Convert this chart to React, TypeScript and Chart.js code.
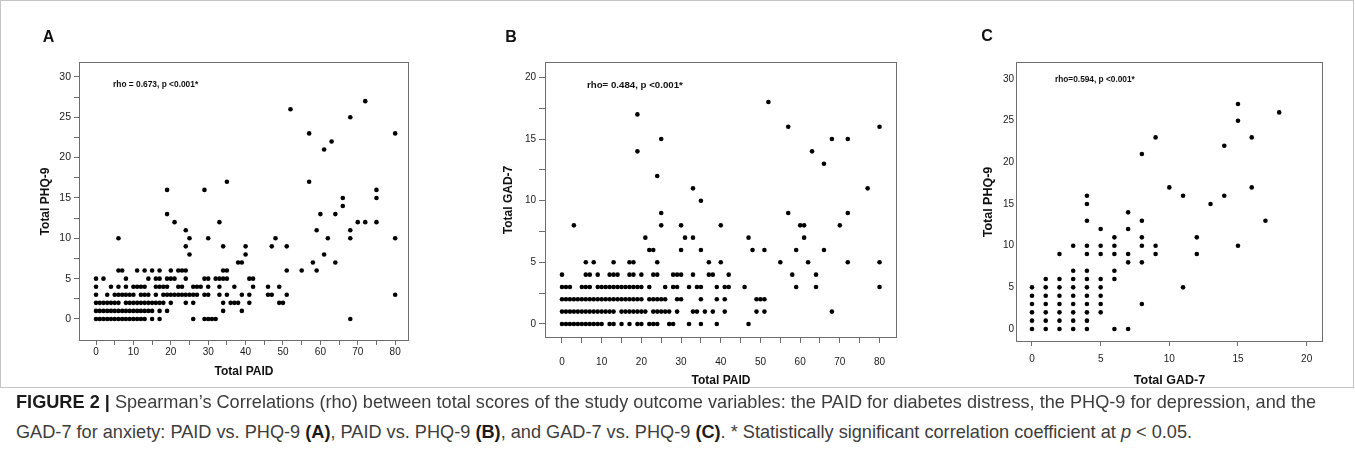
import React, { useEffect, useRef } from 'react';
import { Chart, registerables } from 'chart.js';

Chart.register(...registerables);

const FONT = "'Liberation Sans', Arial, Helvetica, sans-serif";

// ---------- Panel A: Total PAID (x) vs Total PHQ-9 (y) ----------
const A_PHQ_LEVELS = [0, 1, 2, 3, 4, 5, 6, 7, 8, 9, 10, 11, 12, 13, 14, 15, 16, 17, 21, 22, 23, 25, 26, 27];
const A_PAID_BY_LEVEL = [
  [0, 1, 2, 3, 4, 5, 6, 7, 8, 9, 10, 11, 12, 13, 15, 17, 26, 29, 30, 31, 32, 68],
  [0, 1, 2, 3, 4, 5, 6, 7, 8, 9, 10, 11, 12, 13, 14, 15, 17, 19, 34, 39],
  [0, 1, 2, 3, 4, 5, 6, 8, 9, 10, 11, 12, 13, 14, 15, 16, 17, 18, 20, 24, 26, 34, 36, 37, 38, 41, 49, 50],
  [0, 3, 5, 6, 7, 8, 9, 10, 12, 13, 14, 16, 18, 19, 20, 21, 22, 23, 24, 25, 26, 27, 29, 30, 33, 35, 39, 41, 46, 47, 51, 80],
  [0, 4, 6, 8, 10, 11, 12, 13, 16, 17, 18, 19, 22, 23, 26, 27, 28, 30, 33, 37, 42, 46, 49],
  [0, 2, 8, 14, 16, 17, 19, 20, 21, 24, 29, 30, 32, 33, 34, 35, 41, 42],
  [6, 7, 11, 13, 15, 17, 20, 22, 23, 24, 34, 35, 51, 55, 59],
  [38, 39, 58, 64],
  [25, 40, 61],
  [24, 34, 40, 47, 51],
  [6, 25, 30, 48, 62, 68, 80],
  [24, 59, 68],
  [21, 33, 70, 72, 75],
  [19, 60, 64],
  [66],
  [66, 75],
  [19, 29, 75],
  [35, 57],
  [61],
  [63],
  [57, 80],
  [68],
  [52],
  [72],
];

// ---------- Panel B: Total PAID (x) vs Total GAD-7 (y) ----------
const B_GAD_LEVELS = [0, 1, 2, 3, 4, 5, 6, 7, 8, 9, 10, 11, 12, 13, 14, 15, 16, 17, 18];
const B_PAID_BY_LEVEL = [
  [0, 1, 2, 3, 4, 5, 6, 7, 8, 9, 10, 12, 13, 15, 17, 19, 20, 22, 23, 24, 27, 28, 32, 35, 39, 47],
  [0, 1, 2, 3, 4, 5, 6, 7, 8, 9, 10, 11, 12, 13, 15, 16, 17, 18, 19, 20, 21, 23, 24, 25, 26, 27, 29, 33, 34, 36, 38, 41, 49, 51, 68],
  [0, 1, 2, 3, 4, 5, 6, 7, 8, 9, 10, 11, 12, 13, 14, 15, 16, 17, 18, 19, 20, 22, 23, 24, 25, 26, 29, 30, 35, 39, 41, 49, 50, 51],
  [0, 1, 2, 5, 6, 7, 9, 10, 11, 12, 13, 14, 15, 16, 17, 18, 19, 20, 22, 26, 28, 29, 32, 34, 35, 39, 41, 42, 46, 59, 64, 80],
  [0, 6, 7, 9, 12, 13, 14, 17, 18, 20, 23, 24, 28, 29, 30, 33, 37, 38, 42, 58, 64],
  [6, 8, 13, 17, 18, 24, 37, 40, 55, 62, 72, 80],
  [22, 23, 30, 35, 48, 51, 59, 66],
  [21, 31, 33, 47, 61],
  [3, 25, 30, 40, 60, 61, 70],
  [25, 57, 72],
  [35],
  [33, 77],
  [24],
  [66],
  [19, 63],
  [25, 68, 72],
  [57, 80],
  [19],
  [52],
];

// ---------- Panel C: Total GAD-7 (x) vs Total PHQ-9 (y) ----------
const C_PHQ_LEVELS = [0, 1, 2, 3, 4, 5, 6, 7, 8, 9, 10, 11, 12, 13, 14, 15, 16, 17, 21, 22, 23, 25, 26, 27];
const C_GAD_BY_LEVEL = [
  [0, 1, 2, 3, 4, 6, 7],
  [0, 1, 2, 3, 4],
  [0, 1, 2, 3, 4, 5],
  [0, 1, 2, 3, 4, 5, 8],
  [0, 1, 2, 3, 4, 5],
  [0, 1, 2, 3, 4, 5, 11],
  [1, 2, 3, 4, 5, 6],
  [3, 4, 6],
  [7, 8],
  [2, 4, 5, 6, 7, 9, 12],
  [3, 4, 5, 6, 8, 9, 15],
  [6, 8, 12],
  [5, 7],
  [4, 8, 17],
  [7],
  [4, 13],
  [4, 11, 14],
  [10, 16],
  [8],
  [14],
  [9, 16],
  [15],
  [18],
  [15],
];

// ---------- Ticks ----------
const PAID_TICKS = [0, 5, 10, 15, 20, 25, 30, 35, 40, 45, 50, 55, 60, 65, 70, 75, 80];
const PAID_LABELS = ['0', '', '10', '', '20', '', '30', '', '40', '', '50', '', '60', '', '70', '', '80'];
const PHQ_TICKS_A = [0, 2.5, 5, 7.5, 10, 12.5, 15, 17.5, 20, 22.5, 25, 27.5, 30];
const PHQ_LABELS_A = ['0', '', '5', '', '10', '', '15', '', '20', '', '25', '', '30'];
const GAD_TICKS_B = [0, 2.5, 5, 7.5, 10, 12.5, 15, 17.5, 20];
const GAD_LABELS_B = ['0', '', '5', '', '10', '', '15', '', '20'];
const GAD_TICKS_C = [0, 5, 10, 15, 20];
const GAD_LABELS_C = ['0', '5', '10', '15', '20'];
const PHQ_TICKS_C = [0, 5, 10, 15, 20, 25, 30];
const PHQ_LABELS_C = ['0', '5', '10', '15', '20', '25', '30'];

function toPoints(levels: number[], byLevel: number[][]) {
  const pts: { x: number; y: number }[] = [];
  levels.forEach((lv, i) => byLevel[i].forEach((x) => pts.push({ x, y: lv })));
  return pts;
}

interface Spec {
  left: number;
  width: number;
  height: number;
  area: { left: number; top: number; right: number; bottom: number };
  xMin: number; xMax: number; yMin: number; yMax: number;
  xTicks: number[]; xLabels: string[]; yTicks: number[]; yLabels: string[];
  xTitle: string; yTitle: string; titleSize: number;
  points: { x: number; y: number }[];
  letter: string; letterX: number; letterY: number;
  rho: string; rhoX: number; rhoY: number; rhoSize: number;
  yTickLen: number; yTickPad: number; yTickFont: number;
  xTickLen: number; xLabelCenter: number; xTickFont: number;
  yTitleCenterX: number; xTitleCenterY: number;
}

const GRAY = '#6e6e6e';

function Panel({ s }: { s: Spec }) {
  const ref = useRef<HTMLCanvasElement | null>(null);
  useEffect(() => {
    if (!ref.current) return;
    const titleLH = s.titleSize * 1.2;
    const xTickLH = s.xTickFont * 1.2;
    const deco = {
      id: 'deco',
      afterDraw(chart: any) {
        const ctx = chart.ctx;
        const a = chart.chartArea;
        ctx.save();
        ctx.strokeStyle = GRAY;
        ctx.lineWidth = 1;
        ctx.strokeRect(Math.round(a.left) + 0.5, Math.round(a.top) + 0.5, Math.round(a.right - a.left) - 1, Math.round(a.bottom - a.top) - 1);
        ctx.fillStyle = '#111';
        ctx.font = `bold 16px ${FONT}`;
        ctx.textAlign = 'center';
        ctx.textBaseline = 'middle';
        ctx.fillText(s.letter, s.letterX, s.letterY);
        ctx.font = `bold ${s.rhoSize}px ${FONT}`;
        ctx.textAlign = 'left';
        ctx.fillText(s.rho, s.rhoX, s.rhoY);
        ctx.restore();
      },
    };
    const chart = new Chart(ref.current, {
      type: 'scatter',
      data: {
        datasets: [
          {
            data: s.points,
            pointRadius: 2.3,
            pointBackgroundColor: '#000',
            pointBorderWidth: 0,
            pointHoverRadius: 2.3,
            showLine: false,
          },
        ],
      },
      options: {
        animation: false,
        responsive: false,
        maintainAspectRatio: false,
        events: [],
        layout: {
          autoPadding: false,
          padding: { left: 0, top: s.area.top, right: s.width - s.area.right, bottom: 0 },
        },
        plugins: { legend: { display: false }, tooltip: { enabled: false } },
        scales: {
          x: {
            type: 'linear',
            min: s.xMin,
            max: s.xMax,
            afterFit: (sc: any) => { sc.height = s.height - s.area.bottom; },
            afterBuildTicks: (sc: any) => { sc.ticks = s.xTicks.map((v) => ({ value: v })); },
            ticks: {
              autoSkip: false,
              maxRotation: 0,
              padding: s.xLabelCenter - s.area.bottom - s.xTickLen - xTickLH / 2,
              color: '#1a1a1a',
              font: { family: FONT, size: s.xTickFont },
              callback: (_v: any, i: number) => s.xLabels[i],
            },
            grid: {
              display: true,
              drawOnChartArea: false,
              drawTicks: s.xTickLen > 0,
              tickLength: s.xTickLen,
              color: GRAY,
              tickColor: GRAY,
            },
            border: { display: false },
            title: {
              display: true,
              text: s.xTitle,
              color: '#111',
              font: { family: FONT, size: s.titleSize, weight: 'bold' },
              padding: { top: 0, bottom: s.height - s.xTitleCenterY - titleLH / 2 },
            },
          },
          y: {
            type: 'linear',
            min: s.yMin,
            max: s.yMax,
            afterFit: (sc: any) => { sc.width = s.area.left; },
            afterBuildTicks: (sc: any) => { sc.ticks = s.yTicks.map((v) => ({ value: v })); },
            ticks: {
              autoSkip: false,
              padding: s.yTickPad,
              color: '#1a1a1a',
              font: { family: FONT, size: s.yTickFont },
              callback: (_v: any, i: number) => s.yLabels[i],
            },
            grid: {
              display: true,
              drawOnChartArea: false,
              drawTicks: s.yTickLen > 0,
              tickLength: s.yTickLen,
              color: GRAY,
              tickColor: GRAY,
            },
            border: { display: false },
            title: {
              display: true,
              text: s.yTitle,
              color: '#111',
              font: { family: FONT, size: s.titleSize, weight: 'bold' },
              padding: { top: s.yTitleCenterX - titleLH / 2, bottom: 0 },
            },
          },
        },
      } as any,
      plugins: [deco],
    });
    return () => chart.destroy();
  }, [s]);
  return (
    <canvas
      ref={ref}
      width={s.width}
      height={s.height}
      style={{ position: 'absolute', left: s.left, top: 0, width: s.width, height: s.height }}
    />
  );
}

const SPEC_A: Spec = {
  left: 0, width: 470, height: 395,
  area: { left: 79, top: 62, right: 409, bottom: 341 },
  xMin: -4.55, xMax: 83.7, yMin: -2.73, yMax: 31.85,
  xTicks: PAID_TICKS, xLabels: PAID_LABELS, yTicks: PHQ_TICKS_A, yLabels: PHQ_LABELS_A,
  xTitle: 'Total PAID', yTitle: 'Total PHQ-9', titleSize: 12,
  points: toPoints(A_PHQ_LEVELS, A_PAID_BY_LEVEL),
  letter: 'A', letterX: 48.5, letterY: 38,
  rho: 'rho = 0.673, p <0.001*', rhoX: 113, rhoY: 84.5, rhoSize: 8.4,
  yTickLen: 5, yTickPad: 3, yTickFont: 10.5,
  xTickLen: 4, xLabelCenter: 352, xTickFont: 10,
  yTitleCenterX: 45.5, xTitleCenterY: 372,
};

const SPEC_B: Spec = {
  left: 470, width: 460, height: 395,
  area: { left: 75, top: 62, right: 427, bottom: 338 },
  xMin: -4.28, xMax: 84.4, yMin: -1.14, yMax: 21.25,
  xTicks: PAID_TICKS, xLabels: PAID_LABELS, yTicks: GAD_TICKS_B, yLabels: GAD_LABELS_B,
  xTitle: 'Total PAID', yTitle: 'Total GAD-7', titleSize: 12,
  points: toPoints(B_GAD_LEVELS, B_PAID_BY_LEVEL),
  letter: 'B', letterX: 41, letterY: 38,
  rho: 'rho= 0.484, p <0.001*', rhoX: 117, rhoY: 85.5, rhoSize: 9.7,
  yTickLen: 6, yTickPad: 3, yTickFont: 10,
  xTickLen: 5, xLabelCenter: 362, xTickFont: 10,
  yTitleCenterX: 39, xTitleCenterY: 381,
};

const SPEC_C: Spec = {
  left: 930, width: 425, height: 395,
  area: { left: 86, top: 62, right: 393, bottom: 342 },
  xMin: -1.165, xMax: 21.19, yMin: -1.56, yMax: 32.05,
  xTicks: GAD_TICKS_C, xLabels: GAD_LABELS_C, yTicks: PHQ_TICKS_C, yLabels: PHQ_LABELS_C,
  xTitle: 'Total GAD-7', yTitle: 'Total PHQ-9', titleSize: 12.5,
  points: toPoints(C_PHQ_LEVELS, C_GAD_BY_LEVEL),
  letter: 'C', letterX: 57, letterY: 37,
  rho: 'rho=0.594, p <0.001*', rhoX: 125, rhoY: 80, rhoSize: 8.3,
  yTickLen: 0, yTickPad: 2, yTickFont: 10,
  xTickLen: 4, xLabelCenter: 359, xTickFont: 10,
  yTitleCenterX: 59, xTitleCenterY: 381,
};

const CAP_FONT = "'Liberation Sans', Arial, Helvetica, sans-serif";
const CAP1_BOLD = 'FIGURE 2 |';
const CAP1_REST = ' Spearman\u2019s Correlations (rho) between total scores of the study outcome variables: the PAID for diabetes distress, the PHQ-9 for depression, and the';
const CAP_LINE1_WIDTH = 1301;

function captionSize(): number {
  try {
    const c = document.createElement('canvas').getContext('2d');
    if (!c) return 16.3;
    c.font = `bold 100px ${CAP_FONT}`;
    const wb = c.measureText(CAP1_BOLD).width;
    c.font = `100px ${CAP_FONT}`;
    const wr = c.measureText(CAP1_REST).width;
    return (100 * CAP_LINE1_WIDTH) / (wb + wr);
  } catch {
    return 16.3;
  }
}

export default function App() {
  const fs = captionSize();
  const lineStyle: React.CSSProperties = {
    position: 'absolute',
    left: 16,
    height: 22,
    lineHeight: '22px',
    whiteSpace: 'pre',
    fontFamily: CAP_FONT,
    fontSize: fs,
    color: '#3d3d3d',
  };
  const b: React.CSSProperties = { fontWeight: 'bold', color: '#1a1a1a' };
  return (
    <div style={{ position: 'absolute', left: 0, top: 0, width: 1355, height: 474, background: '#fff', overflow: 'hidden' }}>
      <Panel s={SPEC_A} />
      <Panel s={SPEC_B} />
      <Panel s={SPEC_C} />
      <div
        style={{
          position: 'absolute', left: 0, top: 0, width: 1354, height: 388,
          border: '1px solid #c4c4c4', boxSizing: 'border-box', pointerEvents: 'none',
        }}
      />
      <div style={{ ...lineStyle, top: 391 }}>
        <span style={b}>{CAP1_BOLD}</span>
        {CAP1_REST}
      </div>
      <div style={{ ...lineStyle, top: 421 }}>
        {'GAD-7 for anxiety: PAID vs. PHQ-9 '}
        <span style={b}>(A)</span>
        {', PAID vs. PHQ-9 '}
        <span style={b}>(B)</span>
        {', and GAD-7 vs. PHQ-9 '}
        <span style={b}>(C)</span>
        {'. * Statistically significant correlation coefficient at '}
        <i>p</i>
        {' < 0.05.'}
      </div>
    </div>
  );
}
